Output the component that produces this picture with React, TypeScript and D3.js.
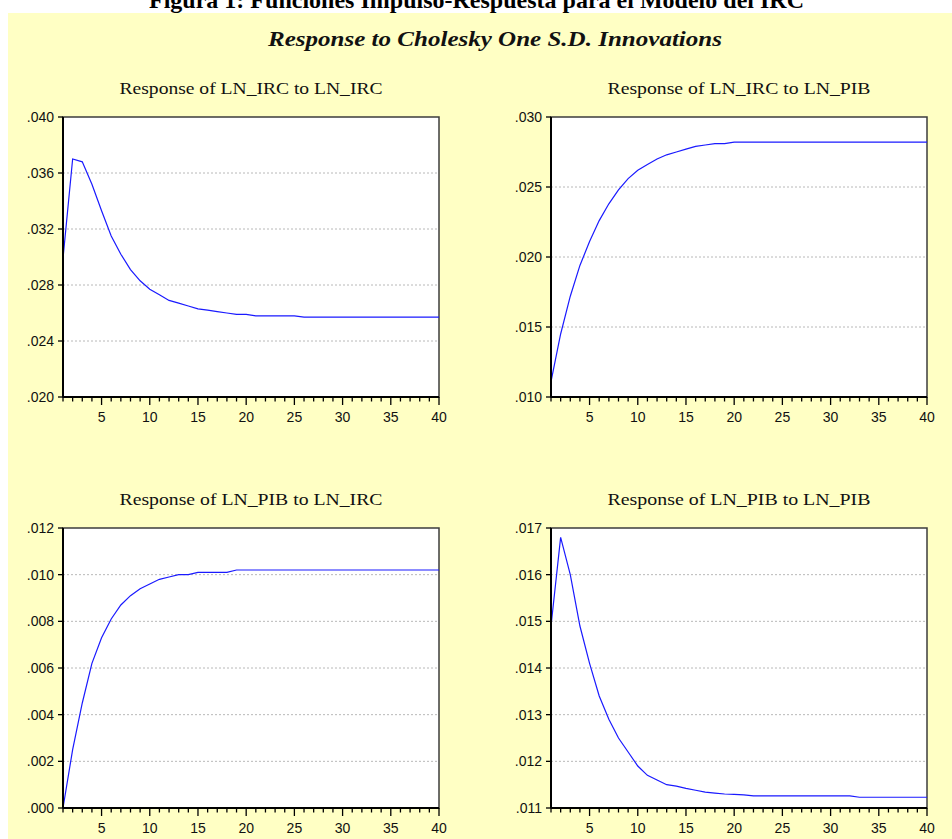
import React from 'react';
import { scaleLinear, line } from 'd3';

const periods = Array.from({ length: 40 }, (_, i) => i + 1);

const ircToIrc = [
  0.0299, 0.037, 0.0368, 0.0352, 0.0333, 0.0315, 0.0302, 0.0291, 0.0283, 0.0277,
  0.0273, 0.0269, 0.0267, 0.0265, 0.0263, 0.0262, 0.0261, 0.026, 0.0259, 0.0259,
  0.0258, 0.0258, 0.0258, 0.0258, 0.0258, 0.0257, 0.0257, 0.0257, 0.0257, 0.0257,
  0.0257, 0.0257, 0.0257, 0.0257, 0.0257, 0.0257, 0.0257, 0.0257, 0.0257, 0.0257,
];
const ircToPib = [
  0.0111, 0.0145, 0.0172, 0.0194, 0.0211, 0.0226, 0.0238, 0.0248, 0.0256, 0.0262,
  0.0266, 0.027, 0.0273, 0.0275, 0.0277, 0.0279, 0.028, 0.0281, 0.0281, 0.0282,
  0.0282, 0.0282, 0.0282, 0.0282, 0.0282, 0.0282, 0.0282, 0.0282, 0.0282, 0.0282,
  0.0282, 0.0282, 0.0282, 0.0282, 0.0282, 0.0282, 0.0282, 0.0282, 0.0282, 0.0282,
];
const pibToIrc = [
  0.0, 0.0025, 0.0045, 0.0062, 0.0073, 0.0081, 0.0087, 0.0091, 0.0094, 0.0096,
  0.0098, 0.0099, 0.01, 0.01, 0.0101, 0.0101, 0.0101, 0.0101, 0.0102, 0.0102,
  0.0102, 0.0102, 0.0102, 0.0102, 0.0102, 0.0102, 0.0102, 0.0102, 0.0102, 0.0102,
  0.0102, 0.0102, 0.0102, 0.0102, 0.0102, 0.0102, 0.0102, 0.0102, 0.0102, 0.0102,
];
const pibToPib = [
  0.0149, 0.0168, 0.016, 0.0149, 0.0141, 0.0134, 0.0129, 0.0125, 0.0122, 0.0119,
  0.0117, 0.0116, 0.0115, 0.01147, 0.01142, 0.01138, 0.01134, 0.01132, 0.0113, 0.01129,
  0.01128, 0.01126, 0.01126, 0.01126, 0.01126, 0.01126, 0.01126, 0.01126, 0.01126, 0.01126,
  0.01126, 0.01126, 0.01123, 0.01123, 0.01123, 0.01123, 0.01123, 0.01123, 0.01123, 0.01123,
];

const xTickLabels = [5, 10, 15, 20, 25, 30, 35, 40];
const yTicks1 = [0.02, 0.024, 0.028, 0.032, 0.036, 0.04];
const yTicks2 = [0.01, 0.015, 0.02, 0.025, 0.03];
const yTicks3 = [0.0, 0.002, 0.004, 0.006, 0.008, 0.01, 0.012];
const yTicks4 = [0.011, 0.012, 0.013, 0.014, 0.015, 0.016, 0.017];

const titles = [
  'Response of LN_IRC to LN_IRC',
  'Response of LN_IRC to LN_PIB',
  'Response of LN_PIB to LN_IRC',
  'Response of LN_PIB to LN_PIB',
];

const panels = [
  { title: titles[0], values: ircToIrc, ticks: yTicks1, left: 63, top: 117 },
  { title: titles[1], values: ircToPib, ticks: yTicks2, left: 551, top: 117 },
  { title: titles[2], values: pibToIrc, ticks: yTicks3, left: 63, top: 528 },
  { title: titles[3], values: pibToPib, ticks: yTicks4, left: 551, top: 528 },
];

const W = 376;
const H = 280;
const fmt = (v: number) => v.toFixed(3).replace(/^0/, '');

const Panel: React.FC<{ p: (typeof panels)[number] }> = ({ p }) => {
  const x = scaleLinear().domain([1, 40]).range([0, W]);
  const y = scaleLinear()
    .domain([p.ticks[0], p.ticks[p.ticks.length - 1]])
    .range([H, 0]);
  const path = line<number>()
    .x((_, i) => x(periods[i]))
    .y((d) => y(d));

  return (
    <g transform={`translate(${p.left},${p.top})`}>
      <text
        x={W / 2}
        y={-23.5}
        textAnchor="middle"
        fontFamily="'Liberation Serif', serif"
        fontSize={17}
        textLength={263}
        lengthAdjust="spacingAndGlyphs"
        fill="#111"
      >
        {p.title}
      </text>
      <rect x={0} y={0} width={W} height={H} fill="#fff" stroke="#3c3c3c" strokeWidth={1.5} />
      {p.ticks.slice(1, -1).map((t) => (
        <line
          key={t}
          x1={0}
          x2={W}
          y1={y(t)}
          y2={y(t)}
          stroke="#b8b8b8"
          strokeDasharray="2,2"
          strokeWidth={1}
        />
      ))}
      <path d={path(p.values) || ''} fill="none" stroke="#1a1aff" strokeWidth={1.2} />
      <line x1={0} x2={0} y1={0} y2={H} stroke="#000" strokeWidth={2} />
      <line x1={0} x2={W} y1={H} y2={H} stroke="#000" strokeWidth={2} />
      {p.ticks.map((t) => (
        <g key={t}>
          <line x1={-5} x2={0} y1={y(t)} y2={y(t)} stroke="#000" strokeWidth={1.3} />
          <text
            x={-9}
            y={y(t)}
            dy="0.36em"
            textAnchor="end"
            fontFamily="'Liberation Sans', Arial, sans-serif"
            fontSize={14}
            fill="#111"
          >
            {fmt(t)}
          </text>
        </g>
      ))}
      {periods.map((d) => (
        <line
          key={d}
          x1={x(d)}
          x2={x(d)}
          y1={H}
          y2={H + (d % 5 === 0 ? 8 : 4.5)}
          stroke="#000"
          strokeWidth={1.3}
        />
      ))}
      {xTickLabels.map((d) => (
        <text
          key={d}
          x={x(d)}
          y={H + 24.5}
          textAnchor="middle"
          fontFamily="'Liberation Sans', Arial, sans-serif"
          fontSize={14}
          fill="#111"
        >
          {d}
        </text>
      ))}
    </g>
  );
};

export default function App() {
  return (
    <svg
      width={952}
      height={839}
      style={{ position: 'fixed', left: 0, top: 0, background: '#fff' }}
    >
      <text
        x={149}
        y={7.5}
        fontFamily="'Liberation Serif', serif"
        fontWeight="bold"
        fontSize={24}
        textLength={655}
        lengthAdjust="spacingAndGlyphs"
        fill="#000"
      >
        Figura 1: Funciones Impulso-Respuesta para el Modelo del IRC
      </text>
      <rect x={8} y={13} width={944} height={826} fill="#ffffc4" />
      <text
        x={268}
        y={46}
        fontFamily="'Liberation Serif', serif"
        fontWeight="bold"
        fontStyle="italic"
        fontSize={21}
        textLength={454}
        lengthAdjust="spacingAndGlyphs"
        fill="#111"
      >
        Response to Cholesky One S.D. Innovations
      </text>
      {panels.map((p) => (
        <Panel key={p.title} p={p} />
      ))}
    </svg>
  );
}
